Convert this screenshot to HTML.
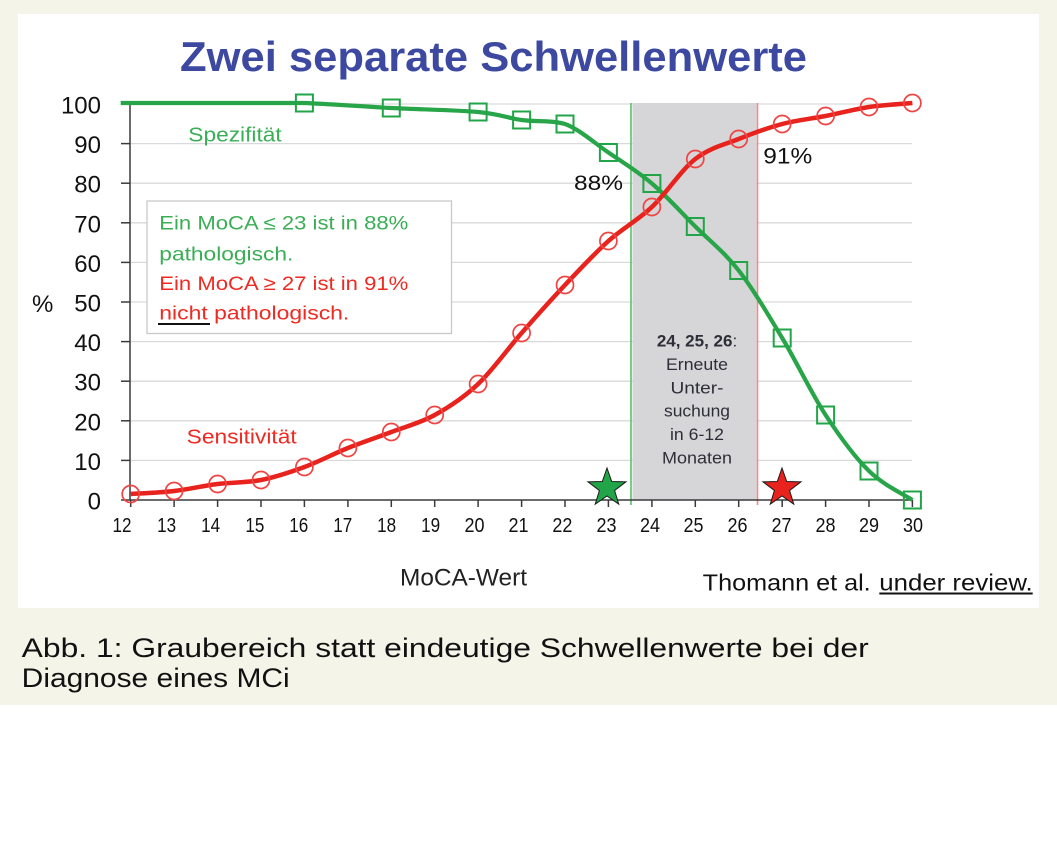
<!DOCTYPE html>
<html>
<head>
<meta charset="utf-8">
<style>
html,body{margin:0;padding:0;background:#ffffff;}
body{width:1057px;height:860px;overflow:hidden;}
svg{display:block;}
text{font-family:"Liberation Sans",sans-serif;}
</style>
</head>
<body>
<svg width="1057" height="860" viewBox="0 0 1057 860" xmlns="http://www.w3.org/2000/svg">
  <!-- backgrounds -->
  <rect x="0" y="0" width="1057" height="860" fill="#ffffff"/>
  <rect x="0" y="0" width="1057" height="705" fill="#f4f5e8"/>
  <rect x="18" y="14" width="1021" height="594" fill="#ffffff"/>

  <!-- title -->
  <text x="180" y="71" font-size="42" font-weight="bold" fill="#3d49a0" textLength="627" lengthAdjust="spacingAndGlyphs">Zwei separate Schwellenwerte</text>

  <!-- gridlines -->
  <g stroke="#d9d9d9" stroke-width="1.3">
    <line x1="130" y1="460.4" x2="912" y2="460.4"/>
    <line x1="130" y1="420.8" x2="912" y2="420.8"/>
    <line x1="130" y1="381.2" x2="912" y2="381.2"/>
    <line x1="130" y1="341.6" x2="912" y2="341.6"/>
    <line x1="130" y1="302" x2="912" y2="302"/>
    <line x1="130" y1="262.4" x2="912" y2="262.4"/>
    <line x1="130" y1="222.8" x2="912" y2="222.8"/>
    <line x1="130" y1="183.2" x2="912" y2="183.2"/>
    <line x1="130" y1="143.6" x2="912" y2="143.6"/>
    <line x1="130" y1="104" x2="912" y2="104"/>
  </g>

  <!-- gray region -->
  <rect x="632.5" y="103" width="124" height="397" fill="#d6d6d8"/>
  <line x1="631" y1="103" x2="631" y2="505" stroke="#5cbf6c" stroke-width="1.6"/>
  <line x1="757.5" y1="103" x2="757.5" y2="505" stroke="#f08a8a" stroke-width="1.6"/>

  <!-- gray box text -->
  <g fill="#2e2e38" font-size="17" text-anchor="middle">
    <text x="697" y="346.7"><tspan font-weight="bold">24, 25, 26</tspan>:</text>
    <text x="697" y="370" textLength="62" lengthAdjust="spacingAndGlyphs">Erneute</text>
    <text x="697" y="393.3" textLength="53" lengthAdjust="spacingAndGlyphs">Unter-</text>
    <text x="697" y="416.7" textLength="66" lengthAdjust="spacingAndGlyphs">suchung</text>
    <text x="697" y="440" textLength="54" lengthAdjust="spacingAndGlyphs">in 6-12</text>
    <text x="697" y="463.3" textLength="70" lengthAdjust="spacingAndGlyphs">Monaten</text>
  </g>

  <!-- axes -->
  <g stroke="#3a3a3a" stroke-width="1.5">
    <line x1="130" y1="103" x2="130" y2="500"/>
    <line x1="130" y1="500" x2="912.4" y2="500"/>
    <!-- y ticks -->
    <line x1="121" y1="500" x2="130" y2="500"/>
    <line x1="121" y1="460.4" x2="130" y2="460.4"/>
    <line x1="121" y1="420.8" x2="130" y2="420.8"/>
    <line x1="121" y1="381.2" x2="130" y2="381.2"/>
    <line x1="121" y1="341.6" x2="130" y2="341.6"/>
    <line x1="121" y1="302" x2="130" y2="302"/>
    <line x1="121" y1="262.4" x2="130" y2="262.4"/>
    <line x1="121" y1="222.8" x2="130" y2="222.8"/>
    <line x1="121" y1="183.2" x2="130" y2="183.2"/>
    <line x1="121" y1="143.6" x2="130" y2="143.6"/>
    <line x1="121" y1="104" x2="130" y2="104"/>
    <!-- x ticks -->
    <line x1="130.7" y1="500" x2="130.7" y2="507"/>
    <line x1="174.1" y1="500" x2="174.1" y2="507"/>
    <line x1="217.6" y1="500" x2="217.6" y2="507"/>
    <line x1="261.0" y1="500" x2="261.0" y2="507"/>
    <line x1="304.4" y1="500" x2="304.4" y2="507"/>
    <line x1="347.9" y1="500" x2="347.9" y2="507"/>
    <line x1="391.3" y1="500" x2="391.3" y2="507"/>
    <line x1="434.7" y1="500" x2="434.7" y2="507"/>
    <line x1="478.1" y1="500" x2="478.1" y2="507"/>
    <line x1="521.6" y1="500" x2="521.6" y2="507"/>
    <line x1="565.0" y1="500" x2="565.0" y2="507"/>
    <line x1="608.4" y1="500" x2="608.4" y2="507"/>
    <line x1="651.9" y1="500" x2="651.9" y2="507"/>
    <line x1="695.3" y1="500" x2="695.3" y2="507"/>
    <line x1="738.7" y1="500" x2="738.7" y2="507"/>
    <line x1="782.2" y1="500" x2="782.2" y2="507"/>
    <line x1="825.6" y1="500" x2="825.6" y2="507"/>
    <line x1="869.0" y1="500" x2="869.0" y2="507"/>
    <line x1="912.4" y1="500" x2="912.4" y2="507"/>
  </g>

  <!-- y labels -->
  <g fill="#111" font-size="24" text-anchor="end">
    <text x="101" y="509.5">0</text>
    <text x="101" y="469.9">10</text>
    <text x="101" y="430.3">20</text>
    <text x="101" y="390.7">30</text>
    <text x="101" y="351.1">40</text>
    <text x="101" y="311.5">50</text>
    <text x="101" y="271.9">60</text>
    <text x="101" y="232.3">70</text>
    <text x="101" y="192.7">80</text>
    <text x="101" y="153.1">90</text>
    <text x="101" y="113.5">100</text>
  </g>
  <text x="32" y="312" font-size="24" fill="#111">%</text>

  <!-- x labels -->
  <g fill="#111" font-size="20" text-anchor="middle">
    <text x="122" y="532" textLength="19" lengthAdjust="spacingAndGlyphs">12</text>
    <text x="166.6" y="532" textLength="19" lengthAdjust="spacingAndGlyphs">13</text>
    <text x="210.6" y="532" textLength="19" lengthAdjust="spacingAndGlyphs">14</text>
    <text x="254.9" y="532" textLength="19" lengthAdjust="spacingAndGlyphs">15</text>
    <text x="298.8" y="532" textLength="19" lengthAdjust="spacingAndGlyphs">16</text>
    <text x="342.7" y="532" textLength="19" lengthAdjust="spacingAndGlyphs">17</text>
    <text x="386.6" y="532" textLength="19" lengthAdjust="spacingAndGlyphs">18</text>
    <text x="430.6" y="532" textLength="19" lengthAdjust="spacingAndGlyphs">19</text>
    <text x="474.5" y="532" textLength="20" lengthAdjust="spacingAndGlyphs">20</text>
    <text x="518.5" y="532" textLength="20" lengthAdjust="spacingAndGlyphs">21</text>
    <text x="562.4" y="532" textLength="20" lengthAdjust="spacingAndGlyphs">22</text>
    <text x="606.5" y="532" textLength="20" lengthAdjust="spacingAndGlyphs">23</text>
    <text x="650" y="532" textLength="20" lengthAdjust="spacingAndGlyphs">24</text>
    <text x="693.5" y="532" textLength="20" lengthAdjust="spacingAndGlyphs">25</text>
    <text x="737.5" y="532" textLength="20" lengthAdjust="spacingAndGlyphs">26</text>
    <text x="781.5" y="532" textLength="20" lengthAdjust="spacingAndGlyphs">27</text>
    <text x="825.5" y="532" textLength="20" lengthAdjust="spacingAndGlyphs">28</text>
    <text x="869" y="532" textLength="20" lengthAdjust="spacingAndGlyphs">29</text>
    <text x="913" y="532" textLength="20" lengthAdjust="spacingAndGlyphs">30</text>
  </g>

  <!-- specificity (green) line -->
  <path d="M120.7,103 L304.4,103 C326.1,103.8 362.4,106.5 391.3,108 C420.3,109.5 456.4,110 478.1,112 C499.8,114 507.1,118 521.6,120 C536.1,122 550.5,120 565.0,124 C579.5,129.4 593.9,142.6 608.4,152.5 C622.9,162.4 637.4,171.2 651.9,183.5 C666.4,195.8 680.8,212 695.3,226.5 C709.8,241 724.2,251.9 738.7,270.5 C753.2,289.1 767.7,313.9 782.2,338 C796.7,362.1 811.1,392.8 825.6,415 C840.1,437.2 854.5,456.8 869.0,471 C883.5,485.2 905.2,495.2 912.4,500" fill="none" stroke="#27a548" stroke-width="4.2" stroke-linejoin="round"/>

  <!-- sensitivity (red) line -->
  <path d="M130.7,494 C137.9,493.5 159.6,492.7 174.1,491 C188.6,489.3 203.1,485.8 217.6,484 C232.1,482.2 246.5,482.8 261.0,480 C275.5,477.2 289.9,472.3 304.4,467 C318.9,461.7 333.4,453.8 347.9,448 C362.4,442.2 376.8,437.5 391.3,432 C405.8,426.5 420.2,423 434.7,415 C449.2,407 463.6,397.7 478.1,384 C492.6,370.3 507.1,349.5 521.6,333 C536.1,316.5 550.5,300.3 565.0,285 C579.5,269.7 593.9,254 608.4,241 C622.9,228 637.4,220.7 651.9,207 C666.4,193.3 680.8,170.3 695.3,159 C709.8,147.7 724.2,144.8 738.7,139 C753.2,133.2 767.7,127.8 782.2,124 C796.7,120.2 811.1,118.8 825.6,116 C840.1,113.2 854.5,109.2 869.0,107 C883.5,104.8 905.2,103.7 912.4,103" fill="none" stroke="#e8221c" stroke-width="4.5" stroke-linejoin="round"/>

  <!-- green squares -->
  <g fill="none" stroke="#22a548" stroke-width="2">
    <rect x="295.9" y="94.5" width="17" height="17"/>
    <rect x="382.8" y="99.5" width="17" height="17"/>
    <rect x="469.6" y="103.5" width="17" height="17"/>
    <rect x="513.1" y="111.5" width="17" height="17"/>
    <rect x="556.5" y="115.5" width="17" height="17"/>
    <rect x="599.9" y="144" width="17" height="17"/>
    <rect x="643.4" y="175" width="17" height="17"/>
    <rect x="686.8" y="218" width="17" height="17"/>
    <rect x="730.2" y="262" width="17" height="17"/>
    <rect x="773.7" y="329.5" width="17" height="17"/>
    <rect x="817.1" y="406.5" width="17" height="17"/>
    <rect x="860.5" y="462.5" width="17" height="17"/>
    <rect x="903.9" y="491.5" width="17" height="17"/>
  </g>

  <!-- red circles -->
  <g fill="none" stroke="#f04444" stroke-width="1.7">
    <circle cx="130.7" cy="494" r="8.5"/>
    <circle cx="174.1" cy="491" r="8.5"/>
    <circle cx="217.6" cy="484" r="8.5"/>
    <circle cx="261.0" cy="480" r="8.5"/>
    <circle cx="304.4" cy="467" r="8.5"/>
    <circle cx="347.9" cy="448" r="8.5"/>
    <circle cx="391.3" cy="432" r="8.5"/>
    <circle cx="434.7" cy="415" r="8.5"/>
    <circle cx="478.1" cy="384" r="8.5"/>
    <circle cx="521.6" cy="333" r="8.5"/>
    <circle cx="565.0" cy="285" r="8.5"/>
    <circle cx="608.4" cy="241" r="8.5"/>
    <circle cx="651.9" cy="207" r="8.5"/>
    <circle cx="695.3" cy="159" r="8.5"/>
    <circle cx="738.7" cy="139" r="8.5"/>
    <circle cx="782.2" cy="124" r="8.5"/>
    <circle cx="825.6" cy="116" r="8.5"/>
    <circle cx="869.0" cy="107" r="8.5"/>
    <circle cx="912.4" cy="103" r="8.5"/>
  </g>

  <!-- stars -->
  <polygon transform="translate(607,488)" points="0,-20 4.7,-6.47 19.02,-6.18 7.61,2.47 11.76,16.18 0,8 -11.76,16.18 -7.61,2.47 -19.02,-6.18 -4.7,-6.47" fill="#22a548" stroke="#1a1a1a" stroke-width="1"/>
  <polygon transform="translate(782,488)" points="0,-20 4.7,-6.47 19.02,-6.18 7.61,2.47 11.76,16.18 0,8 -11.76,16.18 -7.61,2.47 -19.02,-6.18 -4.7,-6.47" fill="#e8221c" stroke="#1a1a1a" stroke-width="1"/>

  <!-- series labels -->
  <text x="188.3" y="141.7" font-size="20" fill="#3aae55" textLength="93.4" lengthAdjust="spacingAndGlyphs">Spezifität</text>
  <text x="186.7" y="443.3" font-size="20" fill="#ee2a22" textLength="110" lengthAdjust="spacingAndGlyphs">Sensitivität</text>

  <!-- percent annotations -->
  <text x="574" y="190" font-size="21" fill="#111" textLength="49" lengthAdjust="spacingAndGlyphs">88%</text>
  <text x="763.3" y="163.3" font-size="22" fill="#111" textLength="49" lengthAdjust="spacingAndGlyphs">91%</text>

  <!-- text box -->
  <rect x="147" y="201" width="304.5" height="132.5" fill="#ffffff" stroke="#c9c9c9" stroke-width="1.3"/>
  <text x="159.3" y="229.3" font-size="19.5" fill="#3aae55" textLength="249" lengthAdjust="spacingAndGlyphs">Ein MoCA ≤ 23 ist in 88%</text>
  <text x="159.3" y="260.5" font-size="19.5" fill="#3aae55" textLength="134" lengthAdjust="spacingAndGlyphs">pathologisch.</text>
  <text x="159.3" y="290" font-size="19.5" fill="#ee2a22" textLength="249" lengthAdjust="spacingAndGlyphs">Ein MoCA ≥ 27 ist in 91%</text>
  <text x="159.3" y="319.5" font-size="19.5" fill="#ee2a22" textLength="190" lengthAdjust="spacingAndGlyphs">nicht pathologisch.</text>
  <line x1="158" y1="324" x2="210" y2="324" stroke="#111" stroke-width="2"/>

  <!-- axis title -->
  <text x="400" y="585.5" font-size="24" fill="#222" textLength="127" lengthAdjust="spacingAndGlyphs">MoCA-Wert</text>

  <!-- source -->
  <text x="702.7" y="590.7" font-size="23" fill="#111" textLength="168" lengthAdjust="spacingAndGlyphs">Thomann et al.</text>
  <text x="879.3" y="590.7" font-size="23" fill="#111" textLength="153.4" lengthAdjust="spacingAndGlyphs">under review.</text>
  <line x1="879.3" y1="593.5" x2="1032.7" y2="593.5" stroke="#111" stroke-width="2"/>

  <!-- caption -->
  <text x="21.7" y="657" font-size="27" fill="#111" textLength="847" lengthAdjust="spacingAndGlyphs">Abb. 1: Graubereich statt eindeutige Schwellenwerte bei der</text>
  <text x="21.7" y="687" font-size="27" fill="#111" textLength="268" lengthAdjust="spacingAndGlyphs">Diagnose eines MCi</text>
</svg>
</body>
</html>
